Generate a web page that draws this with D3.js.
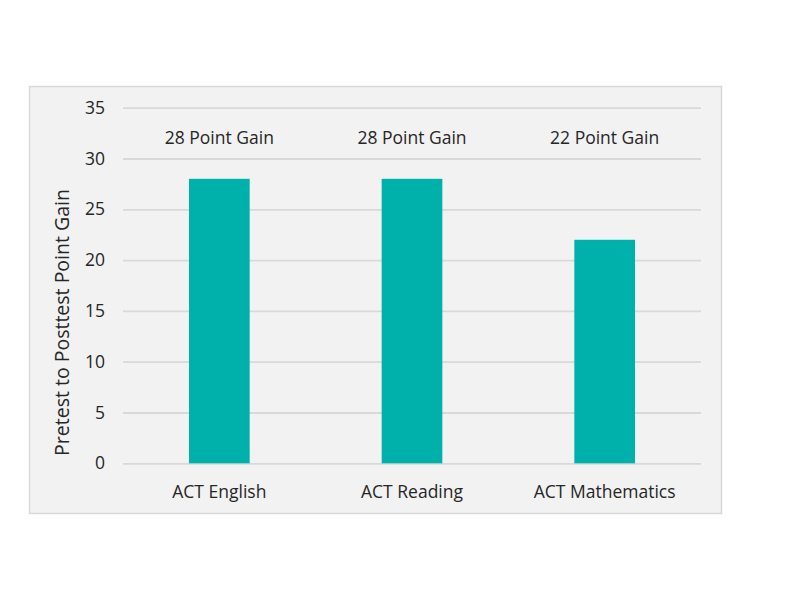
<!DOCTYPE html>
<html>
<head>
<meta charset="utf-8">
<script src="https://cdn.jsdelivr.net/npm/d3@7"></script>
<style>
  body { margin: 0; background: #fff; }
  text { font-family: "Open Sans", sans-serif; fill: #262626; }
</style>
</head>
<body>
<div id="chart"></div>
<script>
// data
const subjects = ["ACT English", "ACT Reading", "ACT Mathematics"];
const gains = [28, 28, 22];
const gainLabels = ["28 Point Gain", "28 Point Gain", "22 Point Gain"];
const yTicks = [0, 5, 10, 15, 20, 25, 30, 35];

const W = 800, H = 600;
const panel = {x: 29.5, y: 86.5, w: 692, h: 427};
const plot = {left: 123, right: 701, top: 107.7, bottom: 463.3};

const svg = d3.select("#chart")
    .append("svg")
    .attr("width", W)
    .attr("height", H);

// grey backdrop
svg.append("rect")
    .attr("x", panel.x)
    .attr("y", panel.y)
    .attr("width", panel.w)
    .attr("height", panel.h)
    .attr("fill", "#f2f2f2")
    .attr("stroke", "#d9d9d9")
    .attr("stroke-width", 1.5);

const x = d3.scaleBand()
    .domain(subjects)
    .range([plot.left, plot.right])
    .paddingInner(0.685)
    .paddingOuter(0.3425);

const y = d3.scaleLinear()
    .domain([0, 35])
    .range([plot.bottom, plot.top]);

// gridlines + tick labels
const yAxis = svg.append("g")
    .attr("class", "yAxis")
    .attr("transform", `translate(${plot.left},0)`)
    .call(d3.axisLeft(y)
        .tickValues(yTicks)
        .tickSize(-(plot.right - plot.left))
        .tickPadding(18));
yAxis.select(".domain").remove();
yAxis.selectAll(".tick line")
    .attr("stroke", "#d9d9d9")
    .attr("stroke-width", 1.8);
yAxis.selectAll(".tick text")
    .style("font-family", "Open Sans, sans-serif")
    .style("font-size", "17.5px")
    .attr("fill", "#262626");

// bars
svg.append("g")
    .selectAll(".bar")
    .data(subjects)
    .join("rect")
    .attr("class", "bar")
    .attr("x", (d) => x(d))
    .attr("y", (d, i) => y(gains[i]))
    .attr("width", x.bandwidth())
    .attr("height", (d, i) => y(0) - y(gains[i]))
    .attr("fill", "#00b0aa");

// gain labels above the bars
svg.append("g")
    .selectAll(".gain")
    .data(subjects)
    .join("text")
    .attr("class", "gain")
    .attr("text-anchor", "middle")
    .attr("x", (d) => x(d) + x.bandwidth() / 2)
    .attr("y", 144)
    .style("font-size", "17.5px")
    .text((d, i) => gainLabels[i]);

// category labels
const xAxis = svg.append("g")
    .attr("class", "xAxis")
    .attr("transform", `translate(0,${plot.bottom})`)
    .call(d3.axisBottom(x).tickSize(0).tickPadding(22));
xAxis.select(".domain").remove();
xAxis.selectAll(".tick text")
    .style("font-family", "Open Sans, sans-serif")
    .style("font-size", "17.5px")
    .attr("fill", "#262626");

// y axis title
svg.append("text")
    .attr("text-anchor", "middle")
    .attr("transform", `translate(69,${(plot.top + plot.bottom) / 2 + 37}) rotate(-90)`)
    .style("font-size", "19.5px")
    .text("Pretest to Posttest Point Gain");
</script>
</body>
</html>
